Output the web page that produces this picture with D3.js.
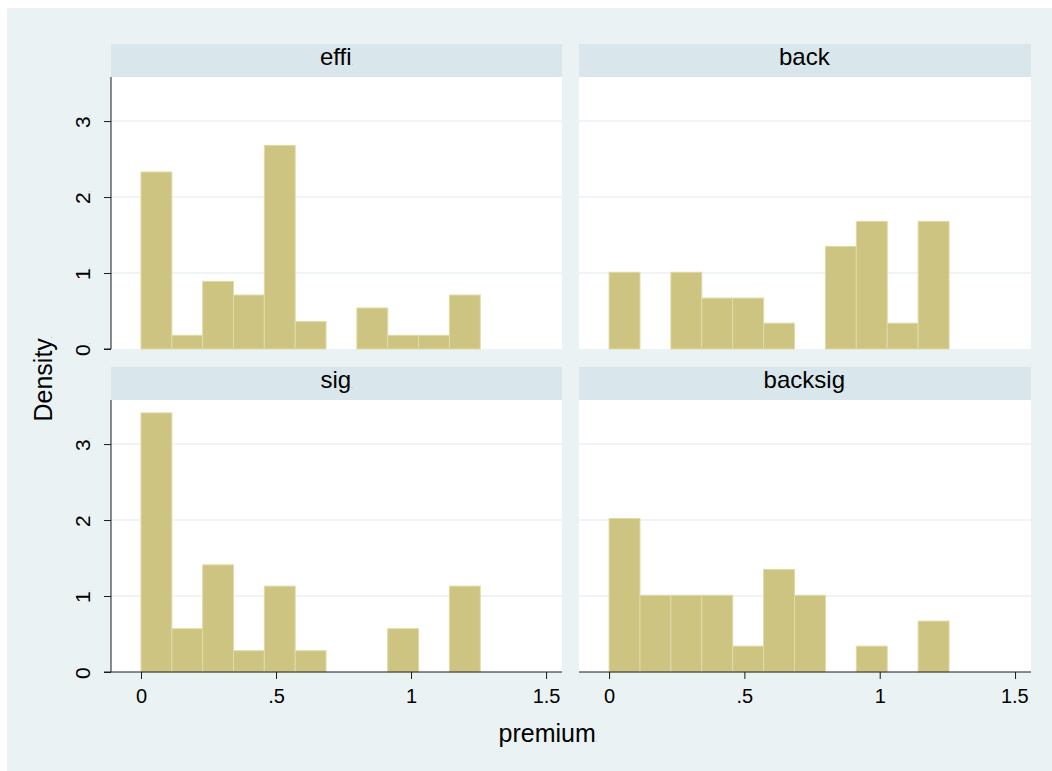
<!DOCTYPE html>
<html>
<head>
<meta charset="utf-8">
<script src="https://cdn.jsdelivr.net/npm/d3@7"></script>
<style>
  html, body { margin: 0; padding: 0; background: #ffffff; }
  svg { display: block; font-family: "Liberation Sans", Arial, Helvetica, sans-serif; }
</style>
</head>
<body>
<svg id="chart" width="1052" height="771"></svg>
<script>
// ---- data ----
const panels = ["effi", "back", "sig", "backsig"];
const binLefts = [0, 0.1142, 0.2284, 0.3426, 0.4568, 0.571, 0.6852, 0.7994, 0.9136, 1.0278, 1.142];
const binWidth = 0.1142;
const effiDensity    = [2.33, 0.18, 0.89, 0.71, 2.68, 0.36, 0, 0.54, 0.18, 0.18, 0.71];
const backDensity    = [1.01, 0, 1.01, 0.67, 0.67, 0.34, 0, 1.35, 1.68, 0.34, 1.68];
const sigDensity     = [3.41, 0.57, 1.41, 0.28, 1.13, 0.28, 0, 0, 0.57, 0, 1.13];
const backsigDensity = [2.02, 1.01, 1.01, 1.01, 0.34, 1.35, 1.01, 0, 0.34, 0, 0.67];
const xTicks = [0, 0.5, 1, 1.5];
const xTickLabels = ["0", ".5", "1", "1.5"];
const yTicks = [0, 1, 2, 3];
const yTickLabels = ["0", "1", "2", "3"];
const xTitle = "premium";
const yTitle = "Density";

const seriesByPanel = [effiDensity, backDensity, sigDensity, backsigDensity];

// ---- styles / layout ----
const C = {
  outer: "#eaf2f3",
  strip: "#d9e6eb",
  plot: "#ffffff",
  grid: "#eaf2f3",
  bar: "#ccc480",
  barStroke: "#e0daa6",
  axis: "#1a1a1a",
  text: "#000000"
};
const colX = [111, 579];
const colW = [451, 452];
const rowStripTop = [44, 367];
const stripH = 33;
const plotH = 272;

const svg = d3.select("#chart");

svg.append("rect").attr("x", 7).attr("y", 8).attr("width", 1052 - 7).attr("height", 771 - 8)
  .attr("fill", C.outer);

function addDot(sel, size) {
  sel.append("tspan").attr("font-size", size || 5).attr("fill", "#666").text(".");
}

panels.forEach((name, i) => {
  const col = i % 2, row = Math.floor(i / 2);
  const x0 = colX[col], w = colW[col];
  const sTop = rowStripTop[row];
  const pTop = sTop + stripH;
  const pBot = pTop + plotH;

  const x = d3.scaleLinear().domain([-0.1111, 1.559]).range([x0, x0 + w]);
  const y = d3.scaleLinear().domain([0, 3.58]).range([pBot, pTop]);

  const g = svg.append("g");

  // strip
  g.append("rect").attr("x", x0).attr("y", sTop).attr("width", w).attr("height", stripH)
    .attr("fill", C.strip);
  const st = g.append("text").attr("x", x0 + w / 2).attr("y", sTop + 21)
    .attr("text-anchor", "middle").attr("font-size", 24).attr("fill", C.text).text(name);
  addDot(st, 5);

  // plot region
  g.append("rect").attr("x", x0).attr("y", pTop).attr("width", w).attr("height", plotH)
    .attr("fill", C.plot);

  // gridlines
  g.selectAll("line.grid").data(yTicks.filter(t => t > 0)).enter().append("line")
    .attr("x1", x0).attr("x2", x0 + w)
    .attr("y1", d => y(d)).attr("y2", d => y(d))
    .attr("stroke", C.grid).attr("stroke-width", 1.5);

  // bars
  const data = seriesByPanel[i].map((v, k) => ({ left: binLefts[k], v }));
  g.selectAll("rect.bar").data(data.filter(d => d.v > 0)).enter().append("rect")
    .attr("class", "bar")
    .attr("x", d => x(d.left))
    .attr("y", d => y(d.v))
    .attr("width", d => x(d.left + binWidth) - x(d.left))
    .attr("height", d => y(0) - y(d.v))
    .attr("fill", C.bar).attr("stroke", C.barStroke).attr("stroke-width", 1);

  // y axis (left column only)
  if (col === 0) {
    const ya = g.append("g").attr("transform", `translate(${x0},0)`)
      .call(d3.axisLeft(y).tickValues(yTicks).tickSize(7)
        .tickFormat((d, k) => yTickLabels[k]));
    ya.select(".domain").attr("stroke", C.axis).attr("d", `M-7,${pBot}H0V${pTop}`);
    ya.selectAll(".tick line").attr("stroke", C.axis);
    ya.selectAll(".tick text")
      .attr("x", null).attr("dy", null).attr("y", null)
      .attr("text-anchor", "middle")
      .attr("transform", "translate(-21,0) rotate(-90)")
      .attr("font-size", 21).attr("fill", C.text)
      .attr("font-family", "Liberation Sans, Arial, sans-serif");
    ya.selectAll(".tick text").each(function () { addDot(d3.select(this), 5); });
  }

  // x axis (bottom row only)
  if (row === 1) {
    const xa = g.append("g").attr("transform", `translate(0,${pBot})`)
      .call(d3.axisBottom(x).tickValues(xTicks).tickSize(7).tickPadding(10)
        .tickFormat((d, k) => xTickLabels[k]));
    xa.select(".domain").attr("stroke", C.axis).attr("d", `M${x0},0H${x0 + w}`);
    xa.selectAll(".tick line").attr("stroke", C.axis);
    xa.selectAll(".tick text").attr("font-size", 20).attr("fill", C.text)
      .attr("font-family", "Liberation Sans, Arial, sans-serif");
    if (col === 1) {
      xa.selectAll(".tick text").filter((d, k) => k === xTicks.length - 1)
        .each(function () { addDot(d3.select(this), 5); });
    }
  }
});

// axis titles
const xt = svg.append("text").attr("x", 548).attr("y", 742).attr("text-anchor", "middle")
  .attr("font-size", 25).attr("fill", C.text).text(xTitle);
addDot(xt, 6);

const yt = svg.append("text").attr("transform", "translate(52,379) rotate(-90)")
  .attr("text-anchor", "middle").attr("font-size", 25).attr("fill", C.text).text(yTitle);
addDot(yt, 6);
</script>
</body>
</html>
